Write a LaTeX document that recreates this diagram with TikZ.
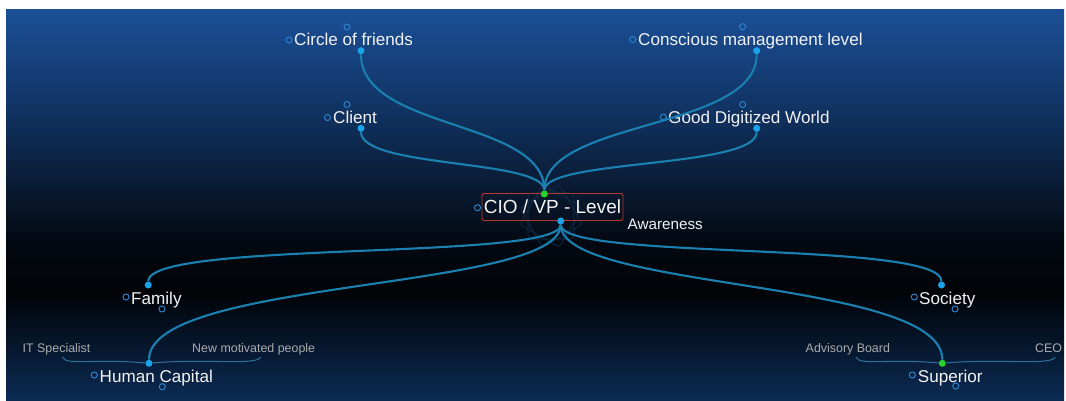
\documentclass[tikz,border=0pt]{standalone}
\usepackage{fontspec}
\setmainfont{Liberation Sans}
\usepackage{tikz}
\usetikzlibrary{calc,positioning,shadings}

\definecolor{bgtop}{HTML}{1B4F96}
\definecolor{bgupper}{HTML}{12376A}
\definecolor{bgmid}{HTML}{0A1C36}
\definecolor{bgdark}{HTML}{030810}
\definecolor{bgblack}{HTML}{010307}
\definecolor{bgbot}{HTML}{0C2B54}
\definecolor{linkblue}{HTML}{1A80AF}
\definecolor{bracketblue}{HTML}{2E6E9B}
\definecolor{dotblue}{HTML}{1AA3E6}
\definecolor{dotgreen}{HTML}{2BD12B}
\definecolor{ringblue}{HTML}{2B86CF}
\definecolor{boxred}{HTML}{B23A2E}
\definecolor{labelgray}{HTML}{ABABAB}
\definecolor{rosette}{HTML}{15324F}

\pgfdeclareverticalshading{mapbg}{100bp}{color(0bp)=(bgbot); color(25bp)=(bgbot); color(39bp)=(bgblack); color(45bp)=(bgdark); color(53bp)=(bgmid); color(64bp)=(bgupper); color(75bp)=(bgtop); color(100bp)=(bgtop)}

\begin{document}
\begin{tikzpicture}[x=0.03cm,y=-0.03cm,
  lab/.style={text=white!90!gray,font=\fontsize{14.6}{16}\selectfont,inner sep=0pt,anchor=base west},
  sublab/.style={text=labelgray,font=\fontsize{10.6}{12}\selectfont,inner sep=0pt,anchor=base west},
  bdot/.style={circle,fill=dotblue,inner sep=0pt,minimum size=6pt},
  gdot/.style={circle,fill=dotgreen,inner sep=0pt,minimum size=6pt},
  ring/.style={circle,draw=ringblue,line width=0.8pt,inner sep=0pt,minimum size=5.2pt},
  link/.style={linkblue,line width=1.8pt},
  bracket/.style={bracketblue,line width=0.9pt}]
\useasboundingbox (0,0) rectangle (1066,401);
\shade[shading=mapbg] (6,10) rectangle (1064,401);

% faint rosette behind the centre
\foreach \a in {0,30,60}
  \draw[rosette,line width=0.5pt,rounded corners=3pt,rotate around={\a:(551,216)}] (528,193) rectangle (574,239);

% central topic
\node[draw=boxred,rounded corners=2pt,line width=0.8pt,text=white!92!gray,font=\fontsize{16.2}{18}\selectfont,
  minimum width=141*0.03cm,minimum height=27*0.03cm,inner sep=0pt] (cio) at (552.5,207) {CIO / VP - Level};
\node[ring] (cior) at (477.5,207.7) {};
\node[text=white!90!gray,font=\fontsize{13}{15}\selectfont,inner sep=0pt,anchor=base west] (aware) at (627.5,229.3) {Awareness};
\node[gdot] (gc) at (544.3,194) {};
\node[bdot] (bc) at (560.7,221) {};

% upper branches
\node[lab] (cof) at (294,46) {Circle of friends};
\node[ring] (cofl) at (289,40) {};
\node[ring] (coft) at (347,27) {};
\node[bdot] (cofd) at (361,50.7) {};

\node[lab] (cli) at (333,124) {Client};
\node[ring] (clil) at (327.5,117.5) {};
\node[ring] (clit) at (347,104.5) {};
\node[bdot] (clid) at (361,128.3) {};

\node[lab] (cml) at (638,46) {Conscious management level};
\node[ring] (cmll) at (632.7,39.5) {};
\node[ring] (cmlt) at (742.7,26.7) {};
\node[bdot] (cmld) at (756.7,50.7) {};

\node[lab] (gdw) at (668,123.5) {Good Digitized World};
\node[ring] (gdwl) at (663.3,117) {};
\node[ring] (gdwt) at (742.7,104.5) {};
\node[bdot] (gdwd) at (756.7,128.3) {};

% lower branches
\node[lab] (fam) at (131,304) {Family};
\node[ring] (faml) at (126,297) {};
\node[ring] (famb) at (162,309) {};
\node[bdot] (famd) at (148.2,285) {};

\node[lab] (soc) at (919,304) {Society};
\node[ring] (socl) at (914.3,297) {};
\node[ring] (socb) at (955,309) {};
\node[bdot] (socd) at (941.5,285) {};

\node[lab] (hc) at (99.5,382.3) {Human Capital};
\node[ring] (hcl) at (94.3,375) {};
\node[ring] (hcb) at (162.3,386.7) {};
\node[bdot] (hcd) at (149,363.3) {};

\node[lab] (sup) at (917.7,382.3) {Superior};
\node[ring] (supl) at (912.3,375) {};
\node[ring] (supb) at (955.7,386) {};
\node[gdot] (supd) at (942.3,363.3) {};

% sub topics
\node[sublab] (its) at (22.5,352.5) {IT Specialist};
\node[sublab] (nmp) at (192,352.5) {New motivated people};
\node[sublab] (adv) at (805.5,352.5) {Advisory Board};
\node[sublab] (ceo) at (1035,352.5) {CEO};
\coordinate (itsend) at (62.5,357);
\coordinate (nmpend) at (260.5,357);
\coordinate (advend) at (856,357);
\coordinate (ceoend) at (1055,357);

% connectors
\draw[link] (gc) .. controls +(0,-75) and +(0,80) .. (cofd);
\draw[link] (gc) .. controls +(0,-35) and +(0,40) .. (clid);
\draw[link] (gc) .. controls +(0,-75) and +(0,80) .. (cmld);
\draw[link] (gc) .. controls +(0,-35) and +(0,40) .. (gdwd);
\draw[link] (bc) .. controls +(0,40) and +(0,-45) .. (famd);
\draw[link] (bc) .. controls +(0,40) and +(0,-45) .. (socd);
\draw[link] (bc) .. controls +(0,70) and +(0,-85) .. (hcd);
\draw[link] (bc) .. controls +(0,70) and +(0,-85) .. (supd);

\draw[bracket] (hcd) .. controls +(-55,-5) and +(3,9) .. (itsend);
\draw[bracket] (hcd) .. controls +(55,-5) and +(-3,9) .. (nmpend);
\draw[bracket] (supd) .. controls +(-55,-5) and +(3,9) .. (advend);
\draw[bracket] (supd) .. controls +(55,-5) and +(-3,9) .. (ceoend);
\end{tikzpicture}
\end{document}
